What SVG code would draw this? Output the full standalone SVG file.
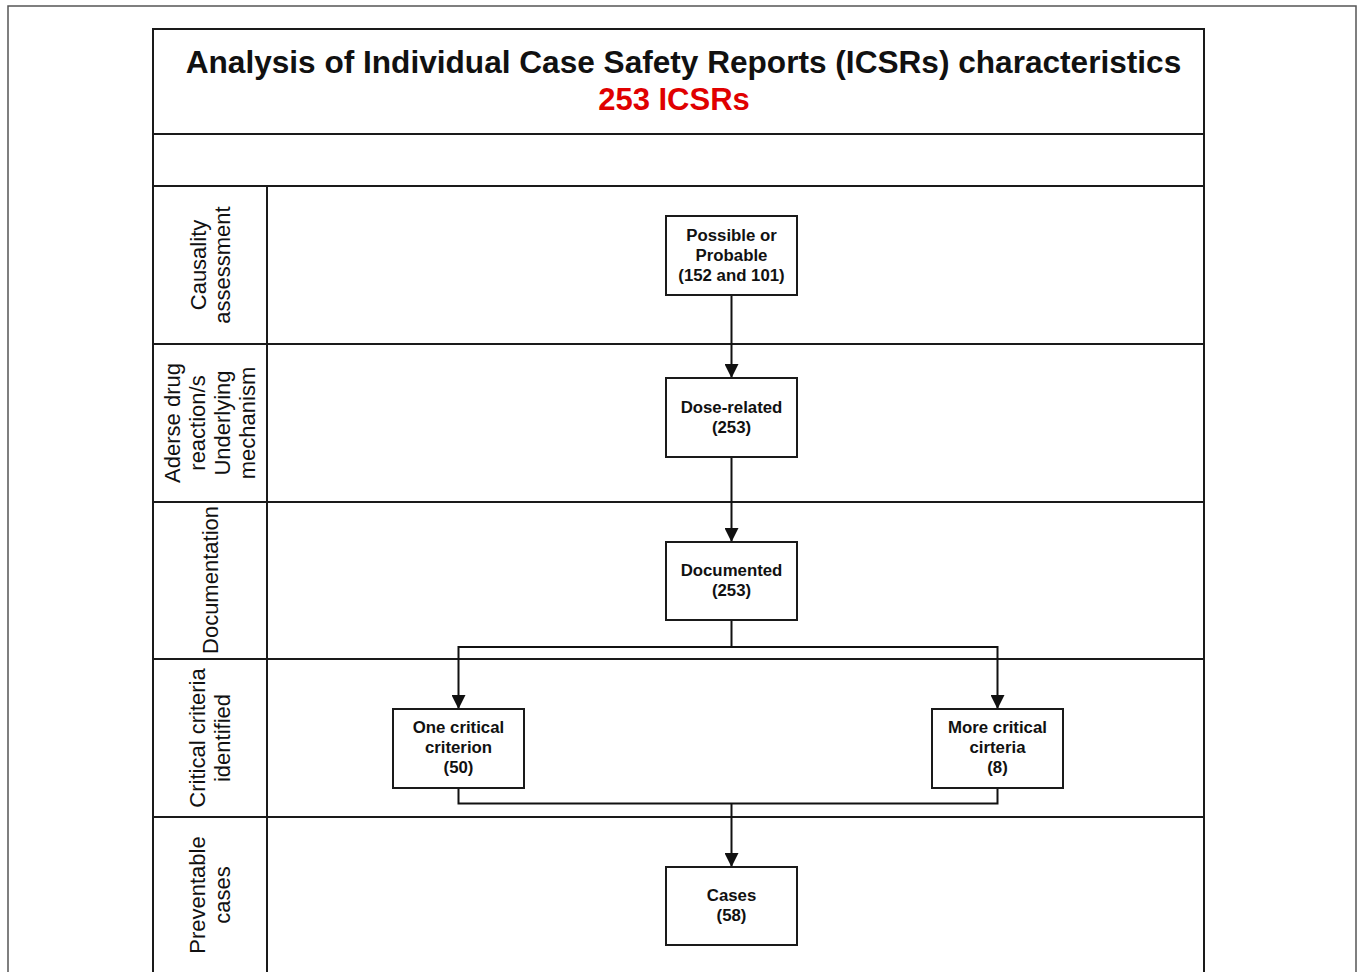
<svg xmlns="http://www.w3.org/2000/svg" width="1357" height="972" viewBox="0 0 1357 972">
<style>
.frame{fill:none;stroke:#1a1a1a;stroke-width:2}
.lane{stroke:#1a1a1a;stroke-width:2}
.box{fill:#fff;stroke:#1a1a1a;stroke-width:2}
.bt{font-family:"Liberation Sans",Arial,sans-serif;font-weight:bold;font-size:16.8px;fill:#111;text-anchor:middle}
.lt{font-family:"Liberation Sans",Arial,sans-serif;font-size:22px;fill:#111;text-anchor:middle}
.conn{fill:none;stroke:#111;stroke-width:2}
</style>
<defs>
<marker id="arr" markerUnits="userSpaceOnUse" markerWidth="14" markerHeight="14" viewBox="0 0 14 14" refX="14" refY="7" orient="auto">
<path d="M0,0 L14,7 L0,14 z" fill="#111"/>
</marker>
</defs>
<rect width="1357" height="972" fill="#fff"/>
<rect x="8" y="6" width="1348" height="1000" fill="none" stroke="#555" stroke-width="1.5"/>
<g id="frame">
<rect class="frame" x="153" y="29" width="1051" height="960"/>
<line class="lane" x1="153" y1="134" x2="1204" y2="134"/>
<line class="lane" x1="153" y1="186" x2="1204" y2="186"/>
<line class="lane" x1="267" y1="186" x2="267" y2="990"/>
<line class="lane" x1="153" y1="344" x2="1204" y2="344"/>
<line class="lane" x1="153" y1="502" x2="1204" y2="502"/>
<line class="lane" x1="153" y1="659" x2="1204" y2="659"/>
<line class="lane" x1="153" y1="817" x2="1204" y2="817"/>
</g>
<g id="title">
<text x="683.5" y="73" font-family="Liberation Sans,Arial,sans-serif" font-weight="bold" font-size="31.6" text-anchor="middle" fill="#111">Analysis of Individual Case Safety Reports (ICSRs) characteristics</text>
<text x="674" y="110" font-family="Liberation Sans,Arial,sans-serif" font-weight="bold" font-size="31" text-anchor="middle" fill="#e00000">253 ICSRs</text>
</g>
<g id="lane-labels">
<text class="lt" transform="translate(0,265) rotate(-90)"><tspan x="0" y="206">Causality</tspan><tspan x="0" y="230">assessment</tspan></text>
<text class="lt" transform="translate(0,423) rotate(-90)"><tspan x="0" y="180">Aderse drug</tspan><tspan x="0" y="205">reaction/s</tspan><tspan x="0" y="230">Underlying</tspan><tspan x="0" y="255">mechanism</tspan></text>
<text class="lt" transform="translate(0,580) rotate(-90)"><tspan x="0" y="218">Documentation</tspan></text>
<text class="lt" transform="translate(0,738) rotate(-90)"><tspan x="0" y="205">Critical criteria</tspan><tspan x="0" y="230">identified</tspan></text>
<text class="lt" transform="translate(0,895) rotate(-90)"><tspan x="0" y="205">Preventable</tspan><tspan x="0" y="230">cases</tspan></text>
</g>
<g id="connectors">
<path class="conn" d="M731.5,295 V378" marker-end="url(#arr)"/>
<path class="conn" d="M731.5,457 V542" marker-end="url(#arr)"/>
<path class="conn" d="M731.5,620 V647 H458.5 V709" marker-end="url(#arr)"/>
<path class="conn" d="M731.5,647 H997.5 V709" marker-end="url(#arr)"/>
<path class="conn" d="M458.5,788 V803.5 H997.5 V788"/>
<path class="conn" d="M731.5,803.5 V867" marker-end="url(#arr)"/>
</g>
<g id="n-possible">
<rect class="box" x="666" y="216" width="131" height="79"/>
<text class="bt"><tspan x="731.5" y="241">Possible or</tspan><tspan x="731.5" y="261">Probable</tspan><tspan x="731.5" y="281">(152 and 101)</tspan></text>
</g>
<g id="n-dose">
<rect class="box" x="666" y="378" width="131" height="79"/>
<text class="bt"><tspan x="731.5" y="413">Dose-related</tspan><tspan x="731.5" y="433">(253)</tspan></text>
</g>
<g id="n-documented">
<rect class="box" x="666" y="542" width="131" height="78"/>
<text class="bt"><tspan x="731.5" y="576">Documented</tspan><tspan x="731.5" y="596">(253)</tspan></text>
</g>
<g id="n-one">
<rect class="box" x="393" y="709" width="131" height="79"/>
<text class="bt"><tspan x="458.5" y="733">One critical</tspan><tspan x="458.5" y="753">criterion</tspan><tspan x="458.5" y="773">(50)</tspan></text>
</g>
<g id="n-more">
<rect class="box" x="932" y="709" width="131" height="79"/>
<text class="bt"><tspan x="997.5" y="733">More critical</tspan><tspan x="997.5" y="753">cirteria</tspan><tspan x="997.5" y="773">(8)</tspan></text>
</g>
<g id="n-cases">
<rect class="box" x="666" y="867" width="131" height="78"/>
<text class="bt"><tspan x="731.5" y="901">Cases</tspan><tspan x="731.5" y="921">(58)</tspan></text>
</g>
</svg>
